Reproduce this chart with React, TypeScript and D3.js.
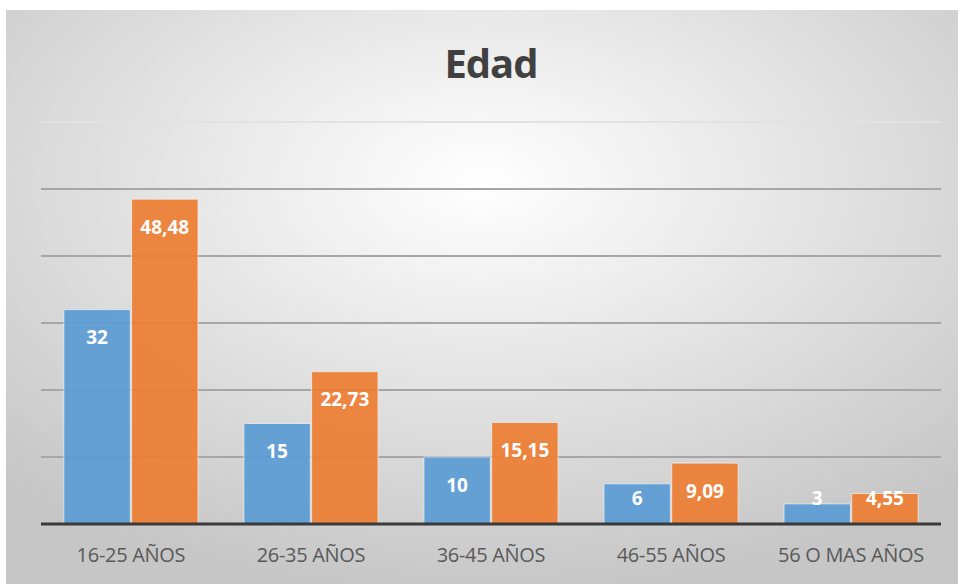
import React, { useEffect, useRef } from 'react'
import * as d3 from 'd3'

const categories = ['16-25 AÑOS', '26-35 AÑOS', '36-45 AÑOS', '46-55 AÑOS', '56 O MAS AÑOS']
const serie1 = [32, 15, 10, 6, 3]
const serie2 = [48.48, 22.73, 15.15, 9.09, 4.55]
const yTicks = [0, 10, 20, 30, 40, 50, 60]
const colors = ['#5B9BD5', '#ED7D31']

const fmt = (v: number) => String(v).replace('.', ',')

function App() {
  const ref = useRef<SVGSVGElement | null>(null)

  useEffect(() => {
    const w = 960, h = 584
    const svg = d3.select(ref.current)
    svg.selectAll('*').remove()

    const defs = svg.append('defs')
    const grad = defs.append('radialGradient')
      .attr('id', 'bg')
      .attr('cx', '50%').attr('cy', '30%').attr('r', '72%')
    grad.append('stop').attr('offset', '0%').attr('stop-color', '#ffffff')
    grad.append('stop').attr('offset', '100%').attr('stop-color', '#c6c6c6')

    svg.append('rect')
      .attr('x', 6).attr('y', 10)
      .attr('width', w - 8).attr('height', h - 10)
      .attr('fill', 'url(#bg)')

    const margin = { left: 41, right: 19, top: 123, bottom: 60 }
    const base = h - margin.bottom

    const x = d3.scaleBand<string>()
      .domain(categories)
      .range([margin.left, w - margin.right])
      .paddingInner(0.255)
      .paddingOuter(0.127)

    const inner = d3.scaleBand<number>()
      .domain([0, 1])
      .range([0, x.bandwidth()])
      .paddingInner(0.02)

    const y = d3.scaleLinear().domain([0, 60]).range([base, base - 402])

    // grid lines
    svg.append('g')
      .selectAll('line')
      .data(yTicks.filter(t => t > 0))
      .enter()
      .append('line')
      .attr('x1', margin.left).attr('x2', w - margin.right)
      .attr('y1', d => y(d)).attr('y2', d => y(d))
      .attr('stroke', d => d === 60 ? '#e2e2e2' : '#a6a6a6')
      .attr('stroke-width', 2)

    const series = [serie1, serie2]
    series.forEach((vals, si) => {
      const g = svg.append('g')
      g.selectAll('rect')
        .data(vals)
        .enter()
        .append('rect')
        .attr('x', (d, i) => (x(categories[i]) as number) + (inner(si) as number))
        .attr('y', d => y(d))
        .attr('width', inner.bandwidth())
        .attr('height', d => base - y(d))
        .attr('fill', colors[si])
        .attr('fill-opacity', 0.92)
        .attr('stroke', '#f4f4f4')
        .attr('stroke-opacity', 0.7)
        .attr('stroke-width', 1)

      g.selectAll('text')
        .data(vals)
        .enter()
        .append('text')
        .attr('x', (d, i) => (x(categories[i]) as number) + (inner(si) as number) + inner.bandwidth() / 2)
        .attr('y', d => Math.min(y(d) + 28, base - 26))
        .attr('dy', '0.35em')
        .attr('text-anchor', 'middle')
        .attr('font-family', '"Open Sans", sans-serif')
        .attr('font-weight', 'bold')
        .attr('font-size', 19)
        .attr('fill', '#ffffff')
        .text(d => fmt(d))
    })

    // baseline
    svg.append('line')
      .attr('x1', margin.left).attr('x2', w - margin.right)
      .attr('y1', base).attr('y2', base)
      .attr('stroke', '#3a3a3a')
      .attr('stroke-width', 3)

    svg.append('g')
      .selectAll('text')
      .data(categories)
      .enter()
      .append('text')
      .attr('x', d => (x(d) as number) + x.bandwidth() / 2)
      .attr('y', base + 38)
      .attr('text-anchor', 'middle')
      .attr('font-family', '"Open Sans", sans-serif')
      .attr('font-size', 20)
      .attr('letter-spacing', -0.3)
      .attr('fill', '#595959')
      .text(d => d)

    svg.append('text')
      .attr('x', 491)
      .attr('y', 78)
      .attr('text-anchor', 'middle')
      .attr('font-family', '"Open Sans", sans-serif')
      .attr('font-weight', 'bold')
      .attr('font-size', 40)
      .attr('letter-spacing', -1)
      .attr('fill', '#404040')
      .text('Edad')
  }, [])

  return (
    <svg ref={ref} width={960} height={584}
      style={{ position: 'absolute', left: 0, top: 0, background: '#fff' }} />
  )
}

export default App
